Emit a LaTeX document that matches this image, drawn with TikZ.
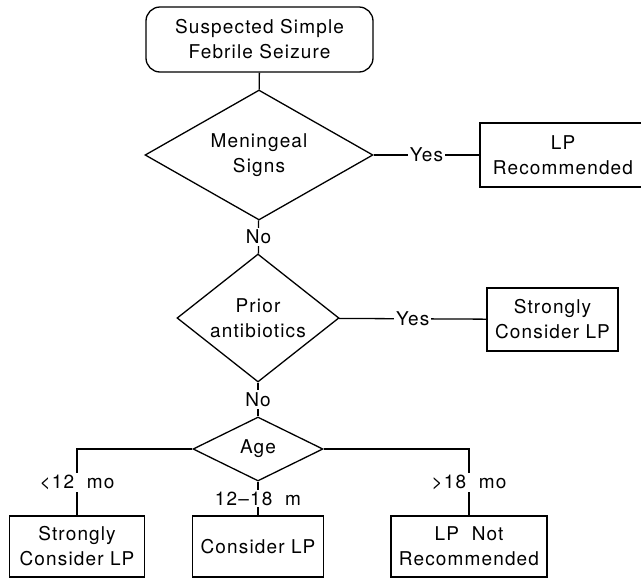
\documentclass[tikz,border=0pt]{standalone}
\usepackage{fontspec}
\setmainfont{TeX Gyre Heros}[LetterSpace=6]
\usetikzlibrary{shapes.geometric}

\begin{document}
\begin{tikzpicture}[
        x=1pt, y=-1pt,
        font=\fontsize{19}{25}\selectfont,
        every node/.style={align=center},
        box/.style={draw, rectangle, line width=1.3pt, inner sep=2pt},
        startbox/.style={draw, rectangle, rounded corners=14pt, line width=1.3pt, minimum width=227pt, minimum height=65pt},
        decision/.style={draw, diamond, inner sep=0pt, line width=1.3pt},
        line/.style={line width=1.3pt},
        lbl/.style={fill=white, inner sep=2pt},
    ]
        \useasboundingbox (0,0) rectangle (641,579);

        \node[startbox] (start) at (259.5,39.5) {Suspected Simple\\Febrile Seizure};
        \node[decision, aspect=1.75, minimum width=228pt, minimum height=130pt] (meningeal) at (259,155) {Meningeal\\Signs};
        \node[box, minimum width=166pt, minimum height=64pt] (lprec) at (563,155) {LP\\Recommended};
        \node[decision, aspect=1.27, minimum width=162pt, minimum height=128pt] (prior) at (258,318) {Prior\\antibiotics};
        \node[box, minimum width=131pt, minimum height=63pt] (strong) at (552.5,319.5) {Strongly\\Consider LP};
        \node[decision, aspect=2.03, minimum width=130pt, minimum height=64pt] (age) at (258,449) {Age};
        \node[box, minimum width=131pt, minimum height=61pt] (consider) at (258,546.5) {Consider LP};
        \node[box, minimum width=135pt, minimum height=61pt] (stronglow) at (77,546.5) {Strongly\\Consider LP};
        \node[box, minimum width=156pt, minimum height=61pt] (notrec) at (469,546.5) {LP\ \ Not\\Recommended};

        \draw[line] (start) -- (meningeal);
        \draw[line] (meningeal) -- node[lbl] {Yes} (lprec);
        \draw[line] (meningeal) -- node[lbl] {No} (prior);
        \draw[line] (prior) -- node[lbl] {Yes} (strong);
        \draw[line] (prior) -- node[lbl] {No} (age);
        \draw[line] (age.west) -| node[lbl, pos=0.75] {<12\ \ mo} (stronglow.north);
        \draw[line] (age.south) -- node[lbl] {12--18\ \ m} (consider.north);
        \draw[line] (age.east) -| node[lbl, pos=0.75] {>18\ \ mo} (notrec.north);
    \end{tikzpicture}
\end{document}
